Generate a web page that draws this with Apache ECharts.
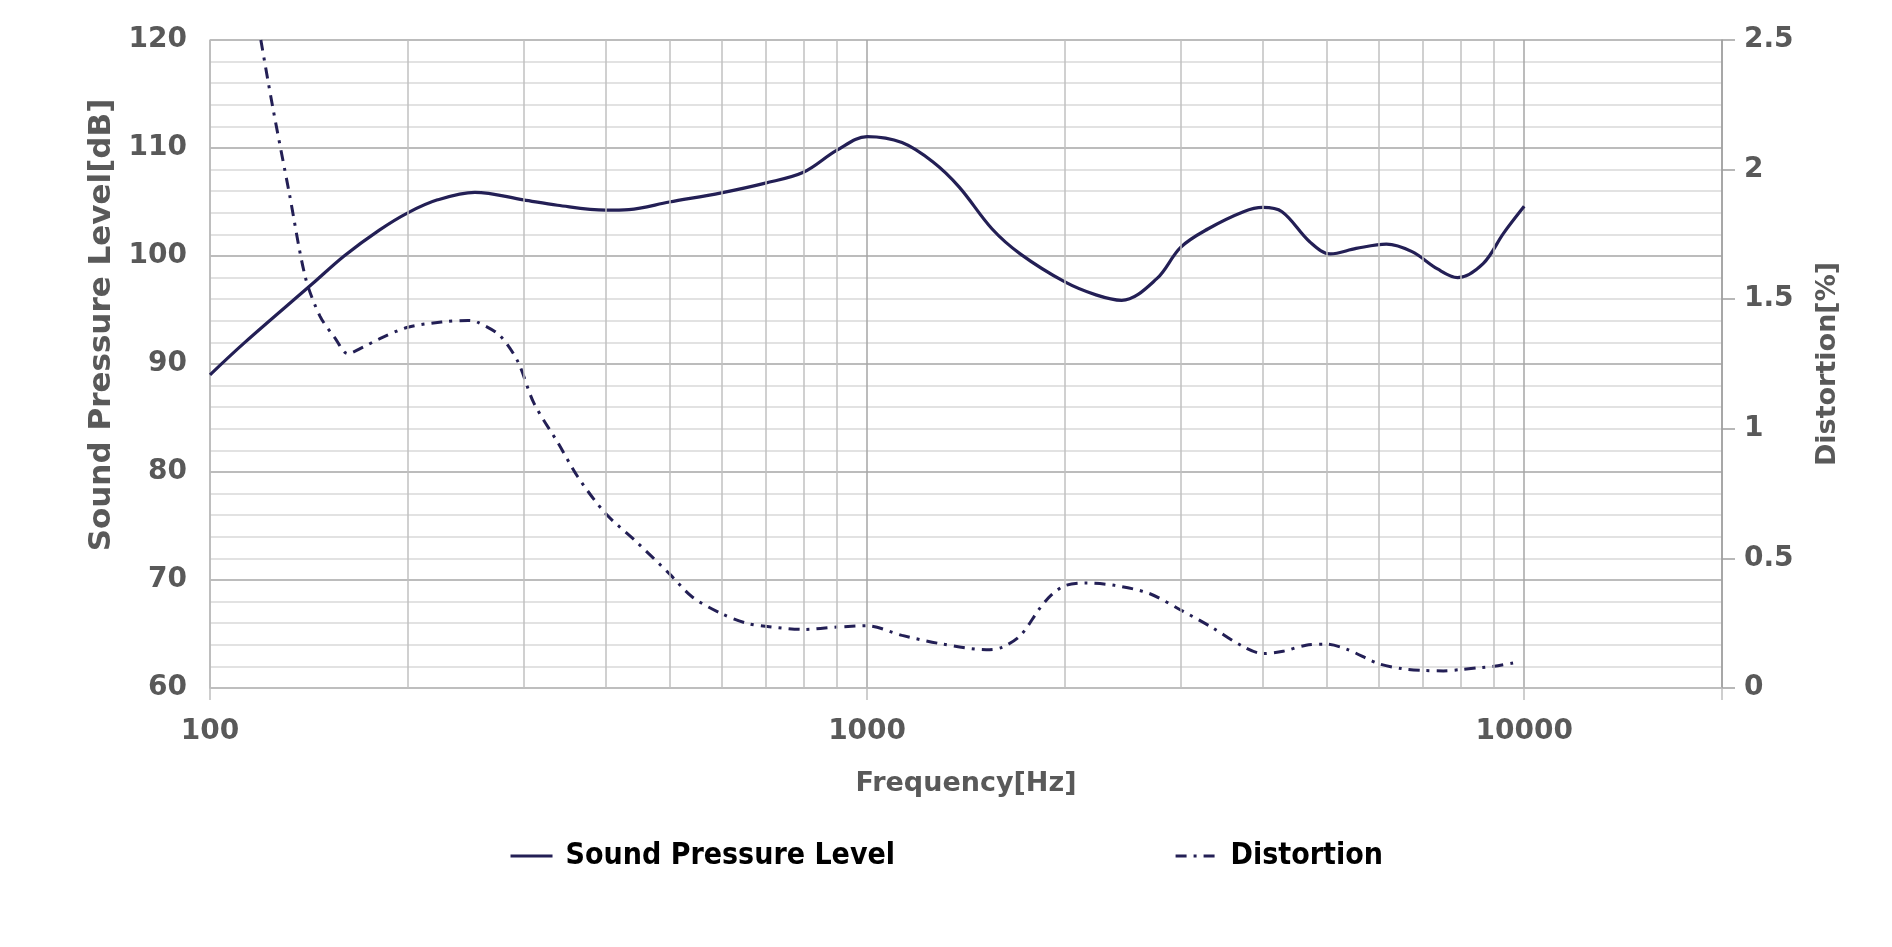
<!DOCTYPE html>
<html><head><meta charset="utf-8">
<style>html,body{margin:0;padding:0;background:#fff}#chart{width:1892px;height:947px}</style>
<script src="https://cdn.jsdelivr.net/npm/echarts@6/dist/echarts.min.js"></script>
</head><body><div id="chart"></div>
<script>
// ---- data ----
const splFreq = [100, 113, 143, 160, 181, 200, 222, 253, 300, 338, 400, 434, 500, 600, 700, 800, 900, 1000, 1130, 1260, 1380, 1550, 1710, 2000, 2230, 2440, 2760, 3000, 3300, 3740, 4000, 4280, 4720, 5070, 5550, 6170, 6750, 7380, 7920, 8660, 9300, 10000];
const splValues = [89.0, 92.0, 97.4, 100.0, 102.4, 104.0, 105.2, 105.9, 105.2, 104.7, 104.25, 104.3, 105.0, 105.85, 106.75, 107.75, 109.8, 111.05, 110.5, 108.7, 106.4, 102.5, 100.2, 97.6, 96.4, 95.9, 97.9, 100.8, 102.5, 104.1, 104.5, 104.1, 101.3, 100.2, 100.7, 101.1, 100.4, 98.8, 98.0, 99.3, 102.1, 104.6];
const distFreq = [119.5, 124.5, 132, 139.7, 147, 155, 162, 171, 181, 200, 225, 247, 255, 276, 294, 311, 339, 363, 400, 443, 500, 542, 600, 653, 700, 800, 900, 1000, 1131, 1293, 1518, 1601, 1712, 1830, 1906, 2000, 2150, 2380, 2686, 3000, 3337, 3728, 4000, 4296, 4656, 5000, 5390, 6000, 6503, 7000, 7534, 8000, 8606, 9000, 9696];
const distValues = [2.50, 2.245, 1.91, 1.584, 1.435, 1.35, 1.29, 1.315, 1.347, 1.392, 1.412, 1.418, 1.412, 1.36, 1.26, 1.10, 0.943, 0.814, 0.673, 0.57, 0.441, 0.351, 0.287, 0.251, 0.238, 0.226, 0.235, 0.240, 0.203, 0.171, 0.148, 0.156, 0.203, 0.306, 0.358, 0.395, 0.405, 0.396, 0.365, 0.301, 0.236, 0.161, 0.133, 0.142, 0.165, 0.169, 0.148, 0.094, 0.075, 0.068, 0.066, 0.071, 0.079, 0.084, 0.098];
const xTickLabels = [100, 1000, 10000];
const minorFreqs = [200, 300, 400, 500, 600, 700, 800, 900, 2000, 3000, 4000, 5000, 6000, 7000, 8000, 9000];
const seriesNames = ['Sound Pressure Level', 'Distortion'];
const axisNames = {x: 'Frequency[Hz]', yLeft: 'Sound Pressure Level[dB]', yRight: 'Distortion[%]'};

const LINE = '#231f55';
const TXT = '#595959';
const FONT = '"DejaVu Sans", sans-serif';

const chart = echarts.init(document.getElementById('chart'), null, {renderer: 'canvas'});
chart.setOption({
  animation: false,
  backgroundColor: '#fff',
  grid: {left: 210, right: 170, top: 40, bottom: 259, outerBoundsMode: 'none', containLabel: false},
  legend: {
    data: seriesNames,
    left: 'center', top: 836,
    itemWidth: 42, itemHeight: 14, itemGap: 279,
    itemStyle: {opacity: 0},
    lineStyle: {width: 3},
    textStyle: {fontFamily: '"DejaVu Sans Condensed", "Liberation Sans Narrow", "DejaVu Sans", sans-serif', fontWeight: 'bold', fontSize: 30, color: '#000', padding: [0, 0, 0, 8]}
  },
  xAxis: {
    type: 'log', logBase: 10, min: 100, max: 20000,
    name: axisNames.x, nameLocation: 'middle', nameGap: 82,
    nameTextStyle: {fontFamily: FONT, fontWeight: 'bold', fontSize: 27, color: TXT},
    axisLine: {show: true, lineStyle: {color: '#bfbfbf', width: 1.5}},
    axisTick: {show: true, length: 12, lineStyle: {color: '#bfbfbf', width: 1.5}},
    axisLabel: {
      margin: 30, fontFamily: FONT, fontWeight: 'bold', fontSize: 28, color: TXT,
      formatter: v => xTickLabels.some(t => Math.abs(t - v) < 1e-6 * t) ? String(Math.round(v)) : ''
    },
    splitLine: {show: true, lineStyle: {color: '#a6a6a6', width: 1.5}}
  },
  yAxis: [{
    type: 'value', min: 60, max: 120, interval: 10, position: 'left',
    name: axisNames.yLeft, nameLocation: 'middle', nameGap: 90,
    nameTextStyle: {fontFamily: FONT, fontWeight: 'bold', fontSize: 31, color: TXT, padding: [0, 0, 0, 78]},
    axisLine: {show: true, lineStyle: {color: '#bfbfbf', width: 1.5}},
    axisTick: {show: false},
    axisLabel: {margin: 23, fontFamily: FONT, fontWeight: 'bold', fontSize: 28, color: TXT},
    splitLine: {show: true, lineStyle: {color: '#a6a6a6', width: 1.5}},
    minorTick: {show: false, splitNumber: 5},
    minorSplitLine: {show: true, lineStyle: {color: '#d9d9d9', width: 1.5}}
  }, {
    type: 'value', min: 0, max: 2.5, interval: 0.5, position: 'right',
    name: axisNames.yRight, nameLocation: 'middle', nameGap: 92,
    nameTextStyle: {fontFamily: FONT, fontWeight: 'bold', fontSize: 27, color: TXT},
    axisLine: {show: true, lineStyle: {color: '#a0a0a0', width: 1.5}},
    axisTick: {show: true, inside: false, length: 13, lineStyle: {color: '#a0a0a0', width: 1.5}},
    axisLabel: {margin: 22, fontFamily: FONT, fontWeight: 'bold', fontSize: 28, color: TXT},
    splitLine: {show: false}
  }],
  series: [{
    name: 'minorGrid', type: 'line', data: [], z: 1, silent: true,
    markLine: {
      silent: true, symbol: ['none', 'none'], label: {show: false},
      lineStyle: {color: '#c0c0c0', type: 'solid', width: 1.5},
      emphasis: {disabled: true},
      data: minorFreqs.map(f => ({xAxis: f}))
    }
  }, {
    name: seriesNames[0], type: 'line', xAxisIndex: 0, yAxisIndex: 0, z: 3,
    symbol: 'none', smooth: 0.35,
    lineStyle: {color: LINE, width: 3.2},
    itemStyle: {color: LINE},
    data: splFreq.map((f, i) => [f, splValues[i]])
  }, {
    name: seriesNames[1], type: 'line', xAxisIndex: 0, yAxisIndex: 1, z: 3,
    symbol: 'none', smooth: 0.3,
    lineStyle: {color: LINE, width: 3, type: [11, 7, 3, 7]},
    itemStyle: {color: LINE},
    data: distFreq.map((f, i) => [f, distValues[i]])
  }]
});
</script>
</body></html>
